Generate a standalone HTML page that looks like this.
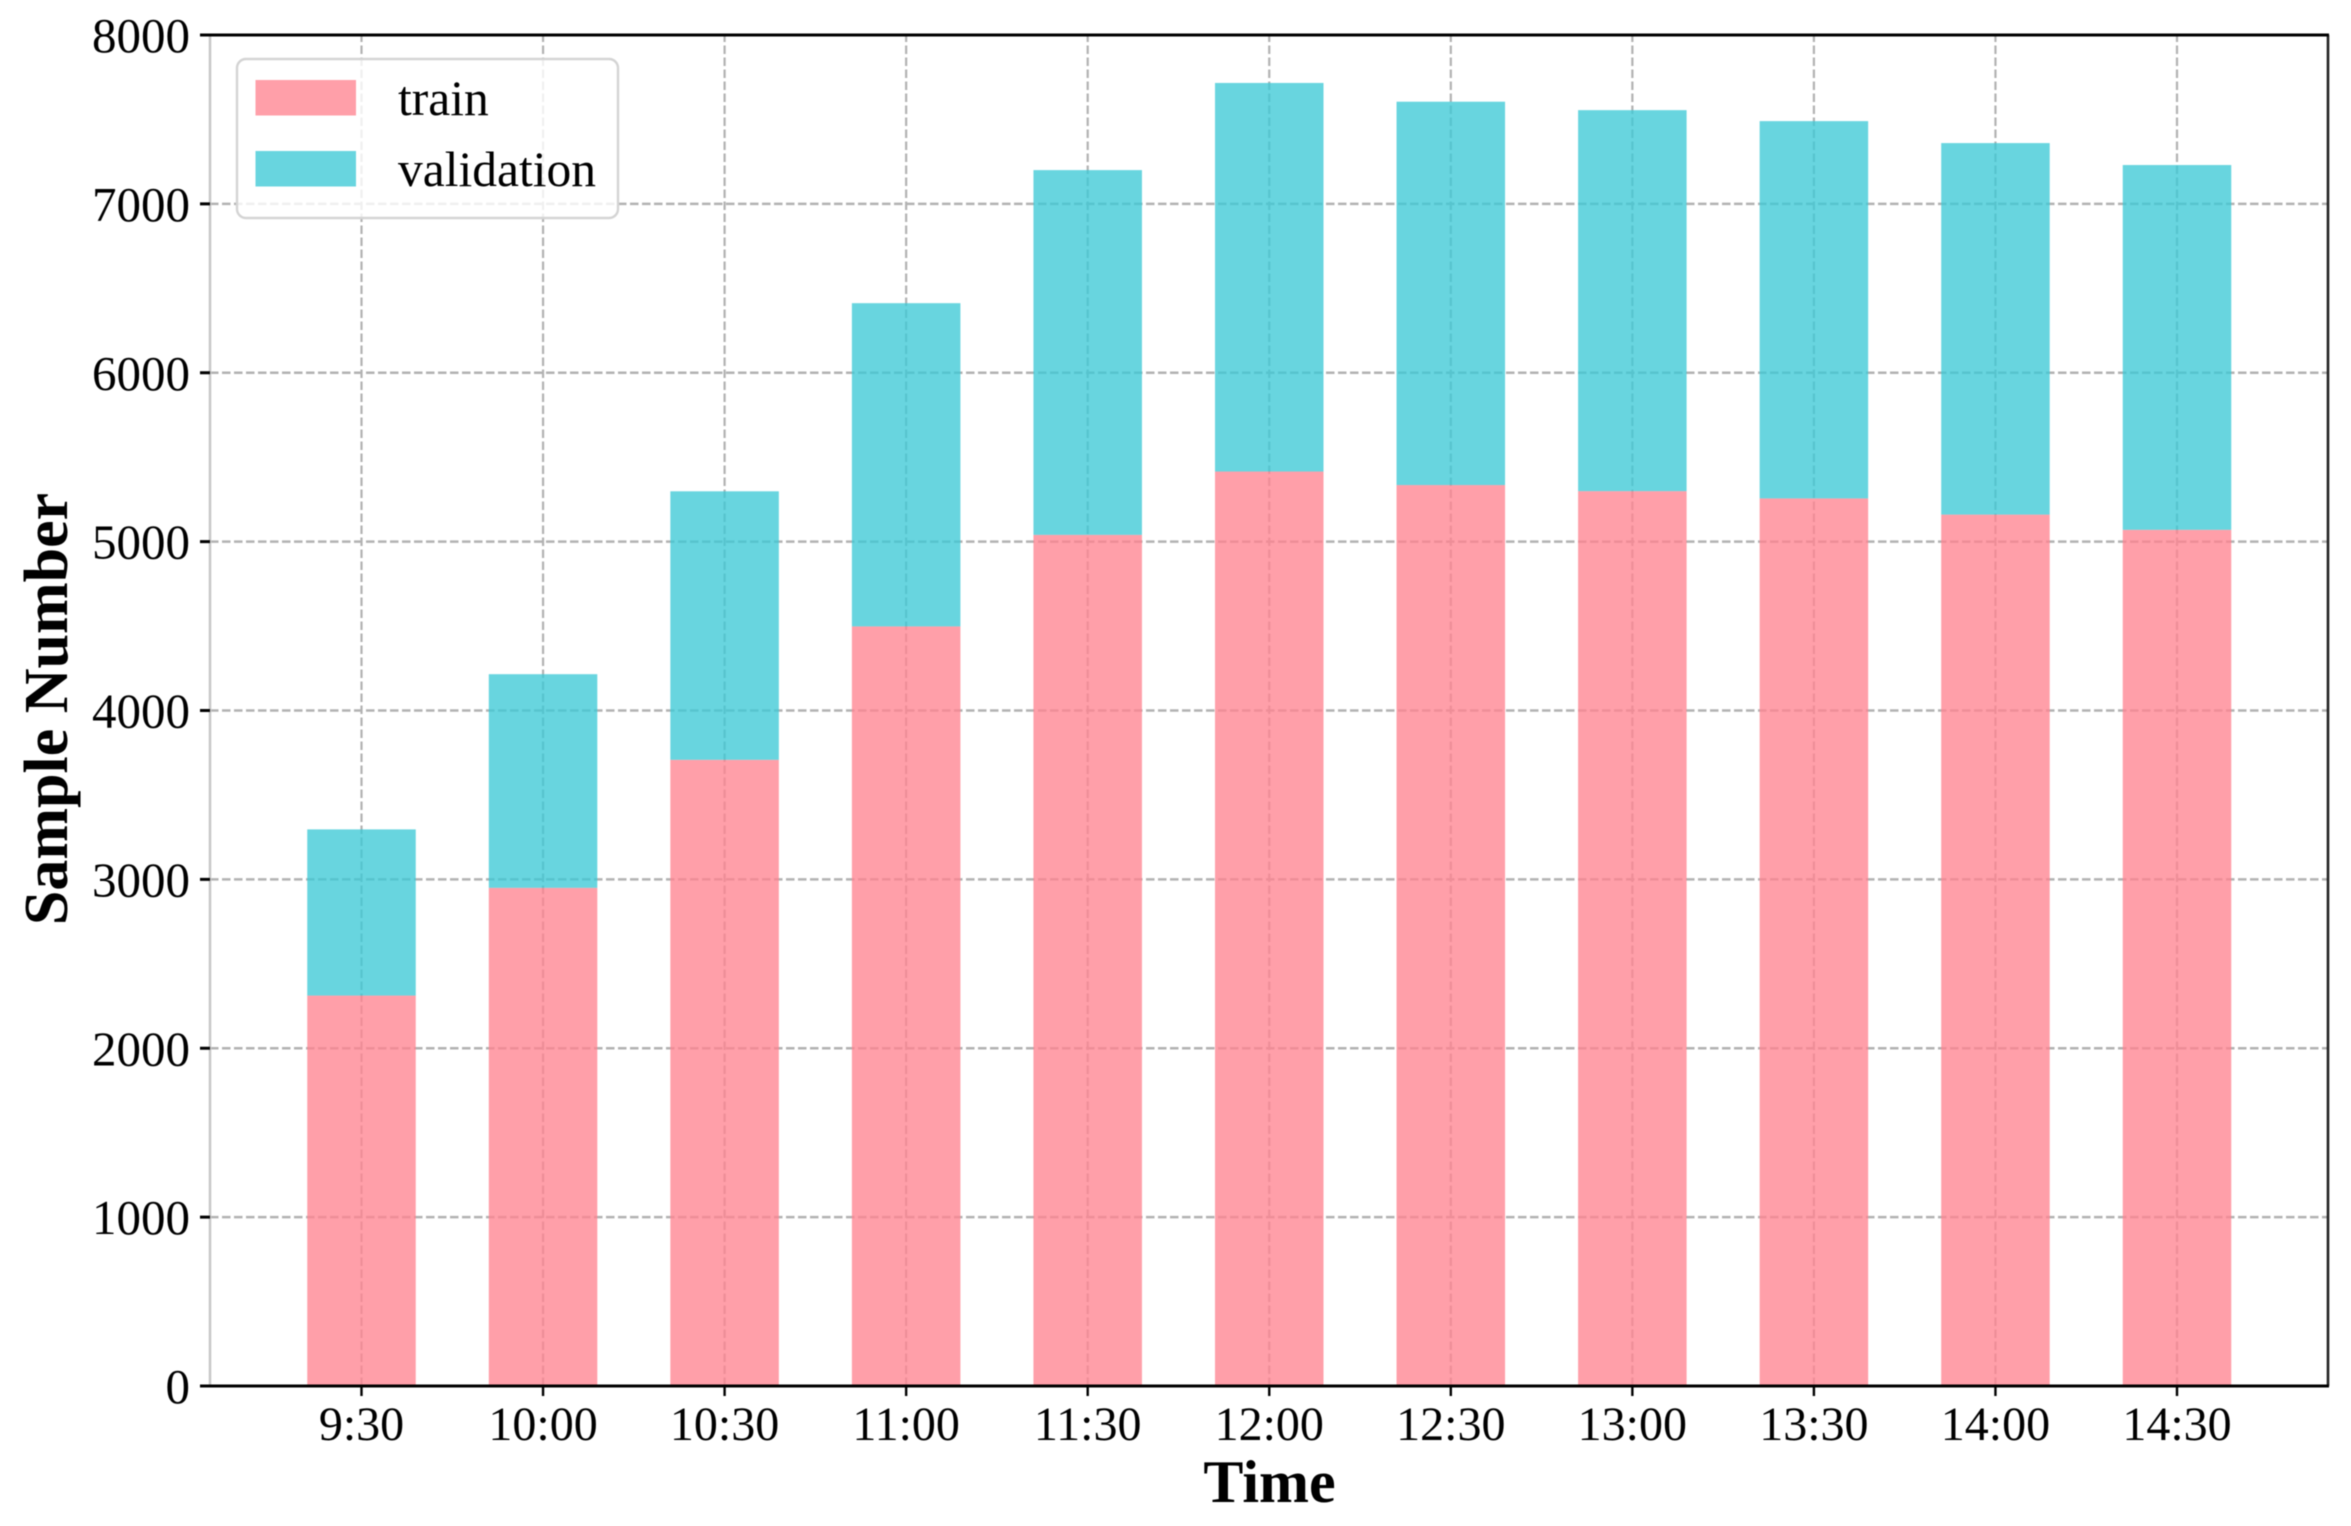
<!DOCTYPE html>
<html lang="en">
<head>
<meta charset="utf-8">
<title>Sample Number by Time</title>
<style>
  html, body { margin: 0; padding: 0; background: #fff; }
  #chart { display: block; width: 2351px; height: 1526px; font-family: "Liberation Serif", serif; filter: blur(0.5px); }
</style>
</head>
<body>
<svg id="chart" xmlns="http://www.w3.org/2000/svg" width="2351" height="1526" viewBox="0 0 2351 1526"></svg>
<script>
const categories = ['9:30', '10:00', '10:30', '11:00', '11:30', '12:00', '12:30', '13:00', '13:30', '14:00', '14:30'];
const trainValues = [2312, 2950, 3708, 4498, 5040, 5415, 5335, 5299, 5256, 5160, 5070];
const validationValues = [984, 1265, 1590, 1914, 2160, 2301, 2270, 2256, 2234, 2200, 2160];
const yTickValues = [0, 1000, 2000, 3000, 4000, 5000, 6000, 7000, 8000];

const svg = document.getElementById('chart');
const NS = 'http://www.w3.org/2000/svg';
const plot = { left: 210, right: 2328, top: 35, bottom: 1386 };
const yMax = 8000;
const barWidth = 108.5;
const firstCenter = 361.5;
const lastCenter = 2177;

function xScale(i) {
  return firstCenter + (lastCenter - firstCenter) * i / (categories.length - 1);
}
function yScale(v) {
  return plot.bottom - (plot.bottom - plot.top) * v / yMax;
}
function make(tag, props) {
  const el = document.createElementNS(NS, tag);
  for (const k in props) el.setAttribute(k, props[k]);
  svg.appendChild(el);
  return el;
}

const background = make('rect', { x: 0, y: 0, width: 2351, height: 1526, fill: '#ffffff' });



yTickValues.forEach(function (v) {
  if (v === 0 || v === yMax) return;
  const line = make('line', { x1: plot.left, x2: plot.right, y1: yScale(v), y2: yScale(v), stroke: '#b2b2b2', 'stroke-width': 2.4, 'stroke-dasharray': '8.5 3.5' });
  
  
});

categories.forEach(function (c, i) {
  const line = make('line', { x1: xScale(i), x2: xScale(i), y1: plot.bottom, y2: plot.top, stroke: '#b2b2b2', 'stroke-width': 2.2, 'stroke-dasharray': '8.5 3.5' });
  
  
});

categories.forEach(function (c, i) {
  const trainTop = yScale(trainValues[i]);
  const bar = make('rect', { x: xScale(i) - barWidth / 2, y: trainTop, width: barWidth, height: plot.bottom - trainTop, fill: '#ff8491', opacity: 0.78 });
  
  
  const total = trainValues[i] + validationValues[i];
  const valTop = yScale(total);
  const valBar = make('rect', { x: xScale(i) - barWidth / 2, y: valTop, width: barWidth, height: trainTop - valTop, fill: '#3ec9d6', opacity: 0.78 });
  
  
});

const spineLeft = make('line', { x1: plot.left, x2: plot.left, y1: plot.top, y2: plot.bottom, stroke: '#c8c8c8', 'stroke-width': 2.5 });


const spineRight = make('line', { x1: plot.right, x2: plot.right, y1: plot.top, y2: plot.bottom, stroke: '#222222', 'stroke-width': 2.6 });


const spineTop = make('line', { x1: 200, x2: plot.right + 1, y1: plot.top, y2: plot.top, stroke: '#000000', 'stroke-width': 3 });


const spineBottom = make('line', { x1: 200, x2: plot.right + 1, y1: plot.bottom, y2: plot.bottom, stroke: '#000000', 'stroke-width': 3 });



yTickValues.forEach(function (v) {
  const tick = make('line', { x1: 200, x2: plot.left, y1: yScale(v), y2: yScale(v), stroke: '#000000', 'stroke-width': 3 });
  
  
  const label = make('text', { x: 190, y: yScale(v) + 17, 'text-anchor': 'end', 'font-size': 49, fill: '#000000' });
  label.textContent = String(v);
  
  
});

categories.forEach(function (c, i) {
  const tick = make('line', { x1: xScale(i), x2: xScale(i), y1: plot.bottom, y2: plot.bottom + 10, stroke: '#000000', 'stroke-width': 2.4 });
  
  
  const label = make('text', { x: xScale(i), y: 1440, 'text-anchor': 'middle', 'font-size': 48, fill: '#000000' });
  label.textContent = c;
  
  
});

const xTitle = make('text', { x: 1269.5, y: 1502, 'text-anchor': 'middle', 'font-size': 60, 'font-weight': 'bold', fill: '#000000' });
xTitle.textContent = 'Time';



const yTitle = make('text', { x: 0, y: 0, 'text-anchor': 'middle', 'font-size': 62, 'font-weight': 'bold', fill: '#000000', transform: 'translate(67 709) rotate(-90)' });
yTitle.textContent = 'Sample Number';



const legendBox = make('rect', { x: 237, y: 59, width: 381, height: 159, rx: 9, ry: 9, fill: '#ffffff', 'fill-opacity': 0.8, stroke: '#d4d4d4', 'stroke-width': 2.4 });


const swatchTrain = make('rect', { x: 255.5, y: 80, width: 100.5, height: 35.5, fill: '#ff8491', opacity: 0.78 });


const swatchVal = make('rect', { x: 255.5, y: 151, width: 100.5, height: 35.5, fill: '#3ec9d6', opacity: 0.78 });


const legendTrain = make('text', { x: 398, y: 115, 'font-size': 49.5, fill: '#000000' });
legendTrain.textContent = 'train';


const legendVal = make('text', { x: 398, y: 186, 'font-size': 49.5, fill: '#000000' });
legendVal.textContent = 'validation';


</script>
</body>
</html>
